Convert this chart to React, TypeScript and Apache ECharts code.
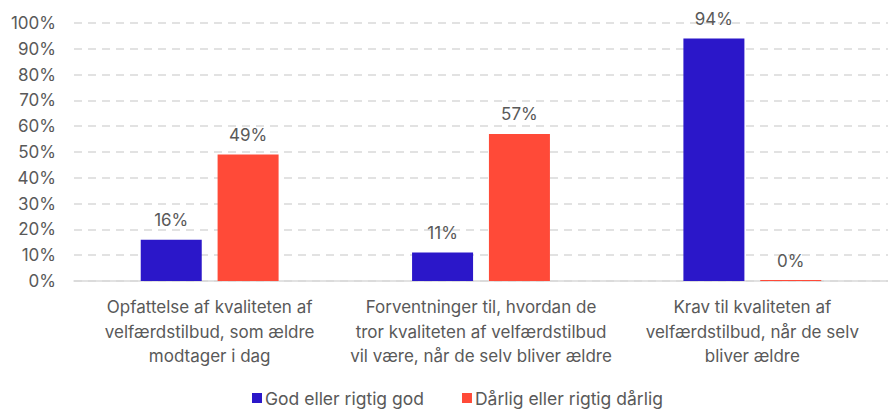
import React, { useEffect, useRef } from "react";
import * as echarts from "echarts";

const categories = [
  "Opfattelse af kvaliteten af\nvelfærdstilbud, som ældre\nmodtager i dag",
  "Forventninger til, hvordan de\ntror kvaliteten af velfærdstilbud\nvil være, når de selv bliver ældre",
  "Krav til kvaliteten af\nvelfærdstilbud, når de selv\nbliver ældre",
];
const goodValues = [16, 11, 94];
const badValues = [49, 57, 0];
const seriesNames = ["God eller rigtig god", "Dårlig eller rigtig dårlig"];

const FONT = "Inter, 'Noto Sans', sans-serif";
const TEXT = "#595959";

export default function App() {
  const ref = useRef<HTMLDivElement>(null);
  useEffect(() => {
    document.body.style.margin = "0";
    const chart = echarts.init(ref.current!, null, { renderer: "svg" });
    const label = {
      show: true,
      position: "top" as const,
      distance: 11,
      formatter: "{c}%",
      color: TEXT,
      fontSize: 17,
      fontFamily: FONT,
    };
    chart.setOption({
      animation: false,
      textStyle: { fontFamily: FONT },
      grid: { left: 74, right: 0, top: 23, bottom: 128, containLabel: false },
      legend: {
        left: 252,
        top: 389,
        padding: 0,
        itemWidth: 10,
        itemHeight: 10,
        itemGap: 38,
        icon: "rect",
        textStyle: { color: TEXT, fontSize: 17.5, fontFamily: FONT, padding: [0, 0, 0, -2] },
        data: seriesNames,
      },
      xAxis: {
        type: "category",
        data: categories,
        axisLine: { lineStyle: { color: "#d9d9d9", width: 1.5 } },
        axisTick: { show: false },
        axisLabel: {
          color: TEXT,
          fontSize: 17,
          fontFamily: FONT,
          lineHeight: 24.5,
          margin: 14,
          interval: 0,
        },
      },
      yAxis: {
        type: "value",
        min: 0,
        max: 100,
        interval: 10,
        axisLabel: {
          formatter: "{value}%",
          color: TEXT,
          fontSize: 17,
          fontFamily: FONT,
          margin: 18,
        },
        axisLine: { show: false },
        axisTick: { show: false },
        splitLine: { lineStyle: { color: "#d9d9d9", width: 1.5, type: [8, 6] } },
      },
      series: [
        {
          name: seriesNames[0],
          type: "bar",
          data: goodValues,
          barWidth: 61,
          barGap: "26%",
          itemStyle: { color: "#2b17c9" },
          label,
        },
        {
          name: seriesNames[1],
          type: "bar",
          data: badValues,
          barWidth: 61,
          barMinHeight: 1,
          itemStyle: { color: "#ff4a38" },
          label,
        },
      ],
    });
    return () => chart.dispose();
  }, []);
  return <div ref={ref} style={{ width: 888, height: 409 }} />;
}
